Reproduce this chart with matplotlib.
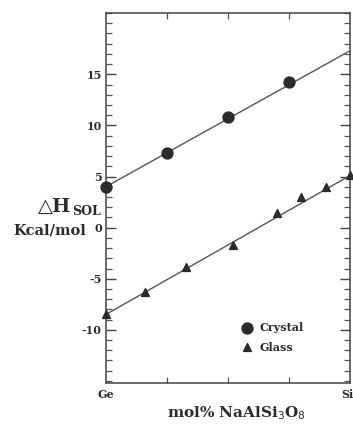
import matplotlib

matplotlib.use("Agg")
import matplotlib.pyplot as plt
from matplotlib.ticker import MultipleLocator

# mol% NaAlSi3O8 (0 = Ge end, 100 = Si end)
crystal_x = [0, 25, 50, 75]
crystal_y = [4.0, 7.3, 10.8, 14.2]
crystal_line_x = [0, 100]
crystal_line_y = [4.0, 17.3]

glass_x = [0, 16, 33, 52, 70, 80, 90, 100]
glass_y = [-8.5, -6.3, -3.9, -1.7, 1.4, 3.0, 4.0, 5.1]
glass_line_x = [0, 100]
glass_line_y = [-8.5, 5.1]

y_ticks = [-10, -5, 0, 5, 10, 15]
x_top_ticks = [25, 50, 75]

serif = ["DejaVu Serif"]
ink = "#2b2b2b"

fig = plt.figure(figsize=(3.53, 4.26), dpi=100)
ax = fig.add_axes([0.300, 0.101, 0.6915, 0.8685])

ax.plot(crystal_line_x, crystal_line_y, color="#555555", lw=1.0, zorder=2)
ax.plot(glass_line_x, glass_line_y, color="#555555", lw=1.0, zorder=2)
ax.scatter(crystal_x, crystal_y, s=62, marker="o", color=ink, zorder=3, clip_on=False)
ax.scatter(glass_x, glass_y, s=32, marker="^", color=ink, zorder=3, clip_on=False)

ax.set_xlim(0, 100)
ax.set_ylim(-15.2, 21.0)

ax.set_yticks(y_ticks)
ax.set_yticklabels([str(v) for v in y_ticks], fontfamily=serif,
                   fontweight="bold", fontsize=8, color=ink)
ax.yaxis.set_minor_locator(MultipleLocator(1))
ax.tick_params(axis="y", which="major", direction="in", length=7, width=1.0,
               left=True, right=True, pad=3, colors="#444444", labelcolor=ink)
ax.tick_params(axis="y", which="minor", direction="in", length=4, width=0.9,
               left=True, right=True, colors="#555555")

ax.set_xticks(x_top_ticks)
ax.set_xticklabels([])
ax.tick_params(axis="x", which="major", direction="in", length=4, width=0.9,
               top=True, bottom=True, colors="#555555")

for sp in ax.spines.values():
    sp.set_color("#444444")
    sp.set_linewidth(1.1)

# axis labels
fig.text(0.202, 0.514, "\u25b3H", ha="right", va="center", fontsize=14,
         family=["DejaVu Serif", "DejaVu Sans"], fontweight="bold", color=ink)
fig.text(0.205, 0.503, "SOL", ha="left", va="center", fontsize=9,
         family=serif, fontweight="bold", color=ink)
fig.text(0.140, 0.460, "Kcal/mol", ha="center", va="center", fontsize=10.5,
         family=serif, fontweight="bold", color=ink)
fig.text(0.300, 0.075, "Ge", ha="center", va="center", fontsize=8,
         family=serif, fontweight="bold", color=ink)
fig.text(0.985, 0.075, "Si", ha="center", va="center", fontsize=8,
         family=serif, fontweight="bold", color=ink)
fig.text(0.670, 0.030, "mol% NaAlSi$_3$O$_8$", ha="center", va="center",
         fontsize=11, family=serif, fontweight="bold", color=ink)

# legend
ax.scatter([58], [-9.8], s=62, marker="o", color=ink, clip_on=False)
ax.scatter([58], [-11.7], s=32, marker="^", color=ink, clip_on=False)
ax.text(63, -9.8, "Crystal", ha="left", va="center", fontsize=8,
        family=serif, fontweight="bold", color=ink)
ax.text(63, -11.7, "Glass", ha="left", va="center", fontsize=8,
        family=serif, fontweight="bold", color=ink)

fig.savefig("out.png", dpi=100)
plt.close(fig)
